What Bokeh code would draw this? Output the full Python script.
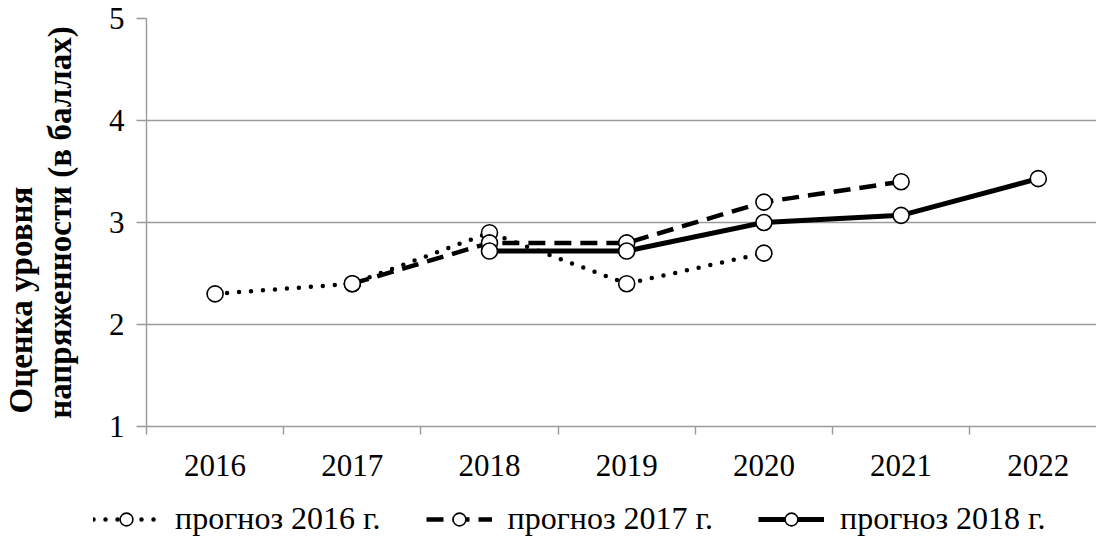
from bokeh.plotting import figure
from bokeh.models import Range1d, FixedTicker, Legend, LegendItem, ColumnDataSource, Title
from bokeh.layouts import column
from bokeh.embed import file_html
from bokeh.resources import INLINE

years = ["2016", "2017", "2018", "2019", "2020", "2021", "2022"]
f2016 = [2.3, 2.4, 2.9, 2.4, 2.7, None, None]
f2017 = [None, 2.4, 2.8, 2.8, 3.2, 3.4, None]
f2018 = [None, None, 2.72, 2.72, 3.0, 3.07, 3.43]
labels = ["прогноз 2016 г.", "прогноз 2017 г.", "прогноз 2018 г."]
y_ticks = [1, 2, 3, 4, 5]
y_title = ["Оценка уровня", "напряженности (в баллах)"]

FONT = "Liberation Serif"
GRAY = "#9a9a9a"

p = figure(frame_width=952, frame_height=408, output_backend="svg", toolbar_location=None,
           x_range=Range1d(0, 952 / 137.2), y_range=Range1d(1, 5),
           min_border_left=144, min_border_top=18, min_border_right=0, min_border_bottom=0)
p.outline_line_color = None
p.xgrid.grid_line_color = None
p.ygrid.grid_line_color = GRAY
p.ygrid.grid_line_width = 1.4

centers = [i + 0.5 for i in range(len(years))]
p.xaxis.ticker = FixedTicker(ticks=centers, minor_ticks=list(range(len(years) + 1)))
p.xaxis.major_label_overrides = {c: y for c, y in zip(centers, years)}
p.xaxis.major_tick_out = 0
p.xaxis.major_tick_in = 0
p.xaxis.minor_tick_out = 8
p.xaxis.minor_tick_in = 0
p.xaxis.minor_tick_line_color = GRAY
p.xaxis.minor_tick_line_width = 1.4
p.xaxis.major_label_standoff = 20

p.yaxis.ticker = FixedTicker(ticks=y_ticks)
p.yaxis.major_tick_out = 10
p.yaxis.major_tick_in = 0
p.yaxis.minor_tick_line_color = None
p.yaxis.major_tick_line_color = GRAY
p.yaxis.major_tick_line_width = 1.4
p.yaxis.major_label_standoff = 12
p.yaxis.axis_label = y_title[1]
p.yaxis.axis_label_standoff = 28
p.yaxis.axis_label_text_font = FONT
p.yaxis.axis_label_text_font_style = "bold"
p.yaxis.axis_label_text_font_size = "33px"
p.yaxis.axis_label_text_color = "black"

# first line of the y title, aligned to the bottom like the reference
t1 = Title(text=y_title[0], align="left", offset=13, standoff=0,
           text_font=FONT, text_font_style="bold", text_font_size="33px", text_color="black")
p.add_layout(t1, "left")

for ax in (p.xaxis[0], p.yaxis[0]):
    ax.axis_line_color = GRAY
    ax.axis_line_width = 1.4
    ax.major_label_text_font = FONT
    ax.major_label_text_font_size = "31px"
    ax.major_label_text_color = "black"

series = [f2016, f2017, f2018]
styles = [dict(line_dash="0 12", line_width=4.5, line_cap="round"),
          dict(line_dash="17 9", line_width=4.5),
          dict(line_dash="solid", line_width=5)]

# legend strip below the chart (its range shows none of the data; only the legend is visible)
lf = figure(width=1096, height=60, output_backend="svg", toolbar_location=None,
            x_axis_type=None, y_axis_type=None, x_range=Range1d(0, 952 / 137.2),
            y_range=Range1d(10, 11), min_border=0, outline_line_color=None)
if "frame_align" in lf.properties():
    lf.frame_align = False

items = []
for vals, st, lab in zip(series, styles, labels):
    xs = [c for c, v in zip(centers, vals) if v is not None]
    ys = [v for v in vals if v is not None]
    src = ColumnDataSource(dict(x=xs, y=ys))
    p.line("x", "y", source=src, line_color="black", **st)
    p.scatter("x", "y", source=src, size=16, marker="circle", fill_color="white",
              line_color="black", line_width=1.6)
    l1 = lf.line("x", "y", source=src, line_color="black", **st)
    l2 = lf.scatter("x", "y", source=src, size=13, marker="circle", fill_color="white",
                    line_color="black", line_width=1.6)
    items.append(LegendItem(label=lab, renderers=[l1, l2]))

legend = Legend(items=items, orientation="horizontal", location=(93, 1),
                label_text_font=FONT, label_text_font_size="32px", label_text_color="black",
                glyph_width=66, glyph_height=32, label_standoff=16, spacing=45,
                border_line_color=None, background_fill_alpha=0, padding=0, margin=0)
lf.add_layout(legend, "center")

open("out.html", "w").write(file_html(column(p, lf, spacing=0), INLINE))
